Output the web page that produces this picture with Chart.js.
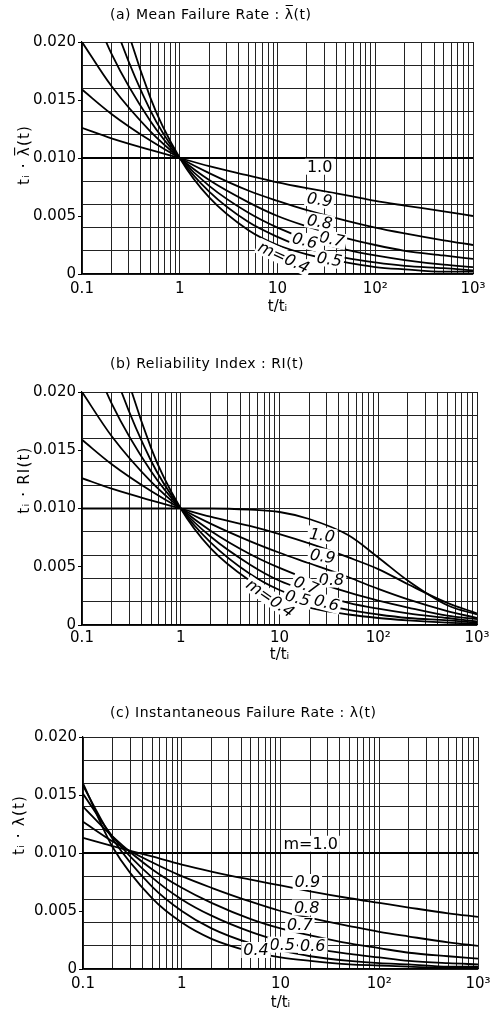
<!DOCTYPE html>
<html>
<head>
<meta charset="utf-8">
<script src="https://cdn.jsdelivr.net/npm/chart.js@4.4.0/dist/chart.umd.min.js"></script>
<style>
  html, body { margin: 0; padding: 0; background: #fff; }
  .panel { position: relative; width: 497px; }
  canvas { display: block; }
</style>
</head>
<body>
<div class="panel" style="height:330px"><canvas id="chartA" width="497" height="330"></canvas></div>
<div class="panel" style="height:340px"><canvas id="chartB" width="497" height="340"></canvas></div>
<div class="panel" style="height:342px"><canvas id="chartC" width="497" height="342"></canvas></div>
<script>
// sample points along t/ti
const tValues = [0.1, 0.2, 0.5, 1, 2, 5, 10, 20, 50, 100, 200, 500, 1000];

// (a) mean failure rate  ti * mean lambda(t), one array per shape m
const meanM10 = [0.0100, 0.0100, 0.0100, 0.0100, 0.0100, 0.0100, 0.0100, 0.0100, 0.0100, 0.0100, 0.0100, 0.0100, 0.0100];
const meanM09 = [0.0126, 0.0117, 0.0107, 0.0100, 0.0093, 0.0085, 0.0079, 0.0074, 0.0068, 0.0063, 0.0059, 0.0054, 0.0050];
const meanM08 = [0.0159, 0.0138, 0.0115, 0.0100, 0.0087, 0.0072, 0.0063, 0.0055, 0.0046, 0.0040, 0.0035, 0.0029, 0.0025];
const meanM07 = [0.0200, 0.0162, 0.0123, 0.0100, 0.0081, 0.0062, 0.0050, 0.0041, 0.0031, 0.0025, 0.0020, 0.0016, 0.0013];
const meanM06 = [0.0251, 0.0190, 0.0132, 0.0100, 0.0076, 0.0053, 0.0040, 0.0030, 0.0021, 0.0016, 0.0012, 0.0008, 0.0006];
const meanM05 = [0.0316, 0.0224, 0.0141, 0.0100, 0.0071, 0.0045, 0.0032, 0.0022, 0.0014, 0.0010, 0.0007, 0.0005, 0.0003];
const meanM04 = [0.0398, 0.0263, 0.0152, 0.0100, 0.0066, 0.0038, 0.0025, 0.0017, 0.0010, 0.0006, 0.0004, 0.0002, 0.0002];

// (b) reliability index  ti * RI(t)
const riM10 = [0.0100, 0.0100, 0.0100, 0.0100, 0.0100, 0.0099, 0.0097, 0.0091, 0.0077, 0.0058, 0.0038, 0.0017, 0.0009];
const riM09 = [0.0126, 0.0117, 0.0107, 0.0100, 0.0093, 0.0085, 0.0078, 0.0070, 0.0058, 0.0048, 0.0035, 0.0019, 0.0010];
const riM08 = [0.0159, 0.0138, 0.0115, 0.0100, 0.0087, 0.0072, 0.0062, 0.0053, 0.0041, 0.0031, 0.0022, 0.0012, 0.0006];
const riM07 = [0.0200, 0.0162, 0.0123, 0.0100, 0.0081, 0.0061, 0.0049, 0.0039, 0.0028, 0.0021, 0.0015, 0.0008, 0.0005];
const riM06 = [0.0251, 0.0190, 0.0132, 0.0100, 0.0076, 0.0052, 0.0038, 0.0029, 0.0019, 0.0014, 0.0010, 0.0006, 0.0003];
const riM05 = [0.0316, 0.0224, 0.0141, 0.0100, 0.0071, 0.0044, 0.0030, 0.0021, 0.0013, 0.0009, 0.0006, 0.0004, 0.0002];
const riM04 = [0.0398, 0.0263, 0.0152, 0.0100, 0.0066, 0.0038, 0.0023, 0.0015, 0.0009, 0.0006, 0.0004, 0.0002, 0.0001];

// (c) instantaneous failure rate  ti * lambda(t)
const instM10 = [0.0100, 0.0100, 0.0100, 0.0100, 0.0100, 0.0100, 0.0100, 0.0100, 0.0100, 0.0100, 0.0100, 0.0100, 0.0100];
const instM09 = [0.0113, 0.0106, 0.0097, 0.0090, 0.0084, 0.0077, 0.0072, 0.0067, 0.0061, 0.0057, 0.0053, 0.0048, 0.0045];
const instM08 = [0.0127, 0.0110, 0.0092, 0.0080, 0.0070, 0.0058, 0.0050, 0.0044, 0.0037, 0.0032, 0.0028, 0.0023, 0.0020];
const instM07 = [0.0140, 0.0114, 0.0086, 0.0070, 0.0057, 0.0043, 0.0035, 0.0029, 0.0022, 0.0018, 0.0014, 0.0011, 0.0009];
const instM06 = [0.0151, 0.0114, 0.0079, 0.0060, 0.0046, 0.0032, 0.0024, 0.0018, 0.0013, 0.0010, 0.0007, 0.0005, 0.0004];
const instM05 = [0.0158, 0.0112, 0.0071, 0.0050, 0.0035, 0.0022, 0.0016, 0.0011, 0.0007, 0.0005, 0.0004, 0.0002, 0.0002];
const instM04 = [0.0160, 0.0105, 0.0061, 0.0040, 0.0026, 0.0015, 0.0010, 0.0007, 0.0004, 0.0003, 0.0002, 0.0001, 0.0001];

// axis ticks
const xLabelValues = [0.1, 1, 10, 100, 1000];
const xLabelText = ['0.1', '1', '10', '10²', '10³'];
const yLabelValues = [0, 0.005, 0.010, 0.015, 0.020];
const yLabelText = ['0', '0.005', '0.010', '0.015', '0.020'];
const yGridValues = [0, 0.002, 0.004, 0.006, 0.008, 0.010, 0.012, 0.014, 0.016, 0.018, 0.020];

// curve labels (placed in data units)
const labelsA = [
    { text: '1.0', t: 27, v: 0.00925, rot: 0, upright: true },
    { text: '0.9', t: 27, v: 0.0064, rot: 8 },
    { text: '0.8', t: 27, v: 0.0045, rot: 10 },
    { text: '0.7', t: 36, v: 0.0030, rot: 12 },
    { text: '0.6', t: 19, v: 0.00287, rot: 14 },
    { text: '0.5', t: 34, v: 0.00127, rot: 10 },
    { text: 'm=0.4', t: 11.6, v: 0.00144, rot: 25 }
];
const labelsB = [
    { text: '1.0', t: 27, v: 0.0077, rot: 8 },
    { text: '0.9', t: 27.3, v: 0.0059, rot: 10 },
    { text: '0.8', t: 33.6, v: 0.0039, rot: 0 },
    { text: '0.7', t: 18.6, v: 0.0034, rot: 22 },
    { text: '0.5', t: 15.3, v: 0.0023, rot: 15 },
    { text: '0.6', t: 30, v: 0.0019, rot: 15 },
    { text: 'm=0.4', t: 8.05, v: 0.0023, rot: 35 }
];
const labelsC = [
    { text: 'm=1.0', t: 20.2, v: 0.0108, rot: 0, upright: true },
    { text: '0.9', t: 18.7, v: 0.0075, rot: 0 },
    { text: '0.8', t: 18.4, v: 0.0053, rot: 0 },
    { text: '0.7', t: 15.7, v: 0.0038, rot: 0 },
    { text: '0.6', t: 21.2, v: 0.0020, rot: 0 },
    { text: '0.5', t: 10.4, v: 0.0021, rot: 0 },
    { text: '0.4', t: 5.65, v: 0.00164, rot: 0 }
];

Chart.defaults.font.family = '"DejaVu Sans", sans-serif';
Chart.defaults.color = '#000';

const xGridValues = [0.1, 1, 10, 100].flatMap(d => [1, 2, 3, 4, 5, 6, 7, 8, 9].map(k => +(k * d).toPrecision(3))).concat([1000]);
const yTickValues = Array.from(new Set(yGridValues.concat(yLabelValues))).sort((a, b) => a - b);
const near = (a, b) => Math.abs(a - b) < 1e-9;

function makeSets(series) {
    return series.map(vals => ({
        data: tValues.map((t, i) => ({ x: t, y: vals[i] })),
        borderColor: '#000',
        borderWidth: 1.8,
        pointRadius: 0,
        fill: false,
        cubicInterpolationMode: 'monotone'
    }));
}

function panelText(title, yTitle, yTitleX, yTitleY, labels) {
    return {
        id: 'panelText',
        afterDatasetsDraw(chart) {
            const { ctx, scales: { x, y } } = chart;
            labels.forEach(l => {
                const px = x.getPixelForValue(l.t);
                const py = y.getPixelForValue(l.v);
                ctx.save();
                ctx.translate(px, py);
                ctx.rotate(l.rot * Math.PI / 180);
                ctx.font = (l.upright ? '' : 'italic ') + '16px "DejaVu Sans"';
                const w = ctx.measureText(l.text).width;
                ctx.fillStyle = '#fff';
                ctx.fillRect(-w / 2 - 2, -8, w + 4, 16);
                ctx.fillStyle = '#000';
                ctx.textAlign = 'center';
                ctx.textBaseline = 'middle';
                ctx.fillText(l.text, 0, 1);
                ctx.restore();
            });
        },
        afterDraw(chart) {
            const ctx = chart.ctx;
            ctx.save();
            ctx.fillStyle = '#000';
            ctx.font = '14px "DejaVu Sans"';
            ctx.letterSpacing = '0.5px';
            ctx.textAlign = 'left';
            ctx.textBaseline = 'middle';
            ctx.fillText(title, 110, chart.panelTitleY);
            ctx.restore();

            ctx.save();
            ctx.fillStyle = '#000';
            ctx.font = '15px "DejaVu Sans"';
            ctx.letterSpacing = '1.2px';
            ctx.translate(yTitleX, yTitleY);
            ctx.rotate(-Math.PI / 2);
            ctx.textAlign = 'center';
            ctx.textBaseline = 'middle';
            ctx.fillText(yTitle, 0, 0);
            ctx.restore();
        }
    };
}

function makeChart(id, series, p) {
    const chart = new Chart(document.getElementById(id), {
        type: 'line',
        data: { datasets: makeSets(series) },
        options: {
            responsive: false,
            animation: false,
            events: [],
            layout: { padding: { top: p.top, right: p.right, bottom: 0, left: 0 } },
            plugins: { legend: { display: false }, tooltip: { enabled: false } },
            scales: {
                x: {
                    type: 'logarithmic',
                    min: 0.1,
                    max: 1000,
                    afterBuildTicks: s => { s.ticks = xGridValues.map(v => ({ value: v })); },
                    afterFit: s => { s.height = p.xh; },
                    border: { color: '#000', width: 1.2 },
                    grid: { color: '#222', lineWidth: 1, drawTicks: false },
                    ticks: {
                        autoSkip: false,
                        maxRotation: 0,
                        minRotation: 0,
                        padding: p.xtp,
                        font: { size: 15 },
                        callback: v => {
                            const i = xLabelValues.findIndex(u => Math.abs(u - v) < 1e-6 * u);
                            return i >= 0 ? xLabelText[i] : '';
                        }
                    },
                    title: {
                        display: true,
                        text: 't/tᵢ',
                        font: { size: 15 },
                        padding: { top: 0, bottom: p.xtb }
                    }
                },
                y: {
                    min: 0,
                    max: 0.02,
                    afterBuildTicks: s => { s.ticks = yTickValues.map(v => ({ value: v })); },
                    afterFit: s => { s.width = p.yw; },
                    border: { color: '#000', width: 1.2 },
                    grid: {
                        color: c => yGridValues.some(v => near(v, c.tick.value)) ? '#222' : 'rgba(0,0,0,0)',
                        tickColor: c => yLabelValues.some(v => near(v, c.tick.value)) ? '#000' : 'rgba(0,0,0,0)',
                        tickLength: 4,
                        lineWidth: 1
                    },
                    ticks: {
                        autoSkip: false,
                        padding: 2,
                        font: { size: 15 },
                        callback: v => {
                            const i = yLabelValues.findIndex(u => near(u, v));
                            return i >= 0 ? yLabelText[i] : '';
                        }
                    }
                }
            }
        },
        plugins: [panelText(p.title, p.yTitle, p.yTitleX, p.yTitleY, p.labels)]
    });
    chart.panelTitleY = p.titleY;
    chart.draw();
    return chart;
}

makeChart('chartA', [meanM10, meanM09, meanM08, meanM07, meanM06, meanM05, meanM04], {
    top: 42, right: 24, yw: 82, xh: 56, xtp: 6, xtb: 14,
    title: '(a) Mean Failure Rate : λ\u0305(t)', titleY: 15,
    yTitle: 'tᵢ · λ\u0305(t)', yTitleX: 25, yTitleY: 155,
    labels: labelsA
});

makeChart('chartB', [riM10, riM09, riM08, riM07, riM06, riM05, riM04], {
    top: 62, right: 20, yw: 82, xh: 45, xtp: 4, xtb: 6,
    title: '(b) Reliability Index : RI(t)', titleY: 34,
    yTitle: 'tᵢ · RI(t)', yTitleX: 25, yTitleY: 150,
    labels: labelsB
});

makeChart('chartC', [instM10, instM09, instM08, instM07, instM06, instM05, instM04], {
    top: 67, right: 19, yw: 83, xh: 43, xtp: 6, xtb: 0,
    title: '(c) Instantaneous Failure Rate : λ(t)', titleY: 43,
    yTitle: 'tᵢ · λ(t)', yTitleX: 20, yTitleY: 155,
    labels: labelsC
});
</script>
</body>
</html>
